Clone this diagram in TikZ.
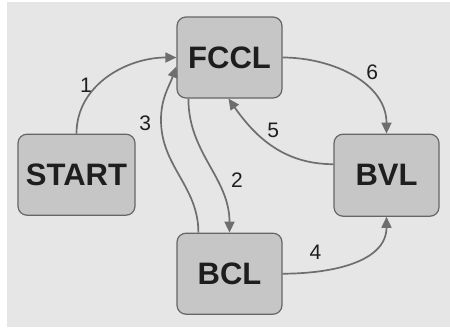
\documentclass[tikz,border=0pt]{standalone}
\usepackage{fontspec}
\setmainfont{Liberation Sans}
\usetikzlibrary{arrows.meta,positioning}
\definecolor{bggray}{HTML}{E6E6E6}
\definecolor{boxgray}{HTML}{C6C6C6}
\definecolor{rimgray}{HTML}{666666}
\definecolor{edgegray}{HTML}{6E6E6E}
\definecolor{txtgray}{HTML}{1E1E1E}
\tikzset{
  phase/.style={draw=rimgray, line width=1.2pt, fill=boxgray, rounded corners=9pt,
    minimum width=105pt, minimum height=81pt, inner sep=0pt,
    font=\fontsize{31}{31}\selectfont\bfseries, text=txtgray},
  trans/.style={draw=edgegray, line width=1.7pt,
    -{Triangle[length=11pt,width=10pt,fill=edgegray]}},
  num/.style={font=\fontsize{21}{21}\selectfont, text=txtgray, inner sep=1pt}
}
\begin{document}
\begin{tikzpicture}[x=1pt,y=1pt]
			\useasboundingbox (0,0) rectangle (450,-330);
			\fill[bggray] (7,-2) rectangle (450,-327);
			% Define nodes
			\node[phase] (fccl) at (229.5,-57.5) {FCCL}; %
			\node[phase, below=134pt of fccl] (bcl) {BCL}; %
			\node[phase, minimum width=117pt, below=35pt of fccl, xshift=-153pt] (start) {START}; %
			\node[phase, minimum height=82pt, below=35pt of fccl, xshift=157pt] (bvl) {BVL}; %
			\coordinate (bend3) at (161,-120);
			%%add edges
			\draw[trans] (start.north) to[out=90,in=180] node[num, pos=0.4, left=4pt] {1} (fccl.west);
			\draw[trans] ([xshift=12pt]fccl.south west) to[out=-90,in=90] node[num, pos=0.62, right=13pt] {2} (bcl.north);
			\draw[trans] ([xshift=22pt]bcl.north west) to[out=90,in=-90] node[num, pos=1, left=8pt, yshift=-3pt] {3} (bend3)
			  to[out=90,in=-110] ([yshift=-9pt]fccl.west);
			\draw[trans] (bcl.east) to[out=0,in=-90] node[num, pos=0.23, above=10pt] {4} (bvl.south);
			\draw[trans] ([yshift=11pt]bvl.west) to[out=180,in=-55] node[num, pos=0.5, above=7pt] {5} ([xshift=-1pt]fccl.south);
			\draw[trans] (fccl.east) to[out=0,in=90] node[num, pos=0.58, above right=3pt] {6} (bvl.north);
\end{tikzpicture}
\end{document}
